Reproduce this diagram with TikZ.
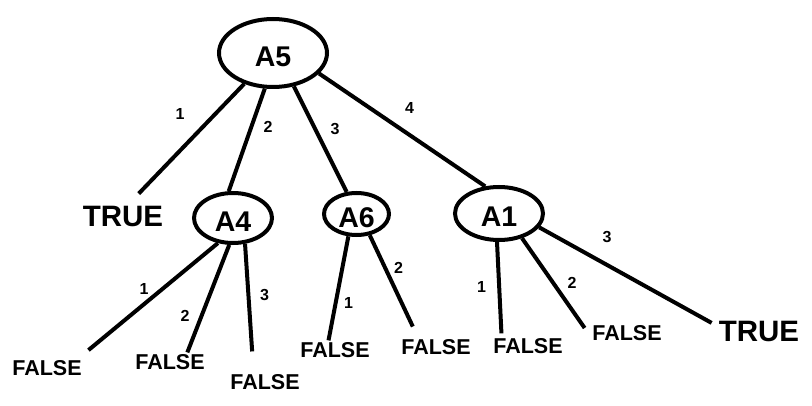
\documentclass[tikz,border=0pt]{standalone}
\usepackage{fontspec}
\setmainfont{Liberation Sans}
\usetikzlibrary{shapes.geometric}

\begin{document}
\begin{tikzpicture}[x=1pt,y=-1pt,line width=4pt,
        attr/.style={ellipse,draw,inner sep=0pt,text height=27pt,text depth=0pt,
          font=\fontsize{28.5}{30}\selectfont\bfseries},
        leaf/.style={inner sep=2pt,outer sep=0pt,font=\fontsize{21.5}{24}\selectfont\bfseries},
        goal/.style={inner sep=2pt,outer sep=0pt,font=\fontsize{29.5}{32}\selectfont\bfseries},
        num/.style={inner sep=0pt,outer sep=0pt,font=\fontsize{16}{18}\selectfont\bfseries}]

  \useasboundingbox (0,0) rectangle (812,406);

  \node[attr,minimum width=108pt,minimum height=68pt] (a5) at (273,53) {A5};
  \node[attr,minimum width=78pt,minimum height=50pt] (a4) at (233,218) {A4};
  \node[attr,minimum width=65pt,minimum height=42pt] (a6) at (356.5,214) {A6};
  \node[attr,minimum width=88pt,minimum height=53pt] (a1) at (499,213.5) {A1};

  \node[goal] (t1) at (123,216) {TRUE};
  \node[leaf] (f1) at (47,368) {FALSE};
  \node[leaf] (f2) at (170,362) {FALSE};
  \node[leaf] (f3) at (265,382) {FALSE};
  \node[leaf] (f4) at (335,350) {FALSE};
  \node[leaf] (f5) at (436,347) {FALSE};
  \node[leaf] (f6) at (528,346) {FALSE};
  \node[leaf] (f7) at (627,333) {FALSE};
  \node[goal] (t2) at (759,331) {TRUE};

  \path (a5.227) edge[shorten >=14pt] (t1.64)
        (a5.257) edge (a4.99)
        (a5.302) edge (a6.114)
        (a5.336) edge (a1.117);

  \path (a4.239) edge[shorten >=13pt] (f1.17)
        (a4.262) edge (f2.29)
        (a4.295) edge[shorten >=21pt] (f3.140);

  \path (a6.250) edge (f4.124)
        (a6.302) edge[shorten >=12pt] (f5.152);

  \path (a1.266) edge[shorten >=3pt] (f6.160)
        (a1.313) edge[shorten >=10pt] (f7.185)
        (a1.341) edge[shorten >=6pt] (t2.173);

  \node[num] (n51) at (180,114) {1};
  \node[num] (n52) at (268,127) {2};
  \node[num] (n53) at (335,129.5) {3};
  \node[num] (n54) at (409.5,108) {4};
  \node[num] (n41) at (144,288.5) {1};
  \node[num] (n42) at (185,316) {2};
  \node[num] (n43) at (264.5,295.5) {3};
  \node[num] (n61) at (348.5,302.5) {1};
  \node[num] (n62) at (398.5,267.5) {2};
  \node[num] (n11) at (481.5,287) {1};
  \node[num] (n12) at (572,282.5) {2};
  \node[num] (n13) at (607,237.5) {3};

\end{tikzpicture}
\end{document}
